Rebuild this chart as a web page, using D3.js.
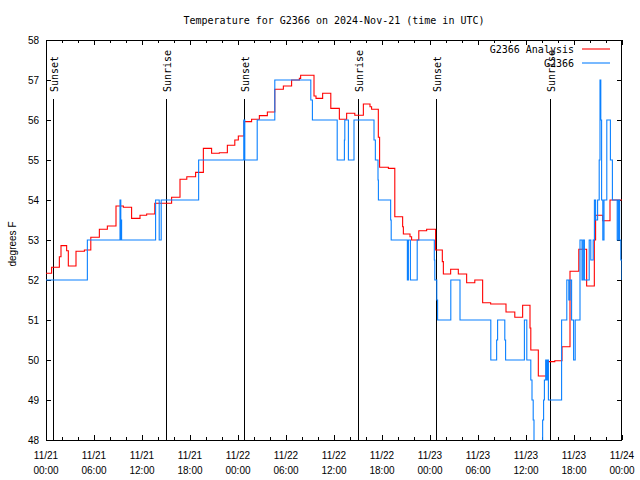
<!DOCTYPE html>
<html><head><meta charset="utf-8">
<script src="https://cdn.jsdelivr.net/npm/d3@7"></script>
<style>
html,body{margin:0;padding:0;background:#fff;}
svg{display:block;}
</style></head>
<body>
<svg id="chart" width="640" height="480"></svg>
<script>
// ---- data (hours since 2024-11-21 00:00 UTC) ----
const analysisHours = [0,0.7,1.67,1.875,2.58,2.79,3.75,4.8,5.6,6.67,7.67,8.75,9.67,10.7,11.75,12.58,13.6,15.7,16.75,17.6,18.7,19.67,20.7,21.67,22.67,23.6,24.04,24.75,25.7,26.67,27.67,28.6,29.67,30.7,31.67,31.83,33.5,33.75,34.58,35.6,36.67,37.58,38.6,39.67,40.5,40.7,41.54,41.7,42.8,43.6,44.58,44.67,45.5,45.7,46.6,47.58,48.7,49.54,49.67,50.58,51.54,52.58,53.6,54.58,55.58,57.5,58.6,59.58,60.5,60.6,61.54,62.55,63.6,64.5,65.5,66.6,67.58,68.54,68.7,69.58,70.5,72];
const analysisTemps = [52.17,52.32,52.58,52.86,52.73,52.35,52.72,52.75,53.07,53.27,53.35,53.85,53.82,53.54,53.62,53.65,53.92,54.07,54.52,54.58,54.69,55.29,55.17,55.18,55.37,55.5,55.6,55.96,56.02,56.11,56.2,56.77,56.85,57.0,57.04,57.12,56.6,56.54,56.67,56.29,56.02,56.17,56.12,56.4,56.33,56.27,55.57,54.82,54.79,53.58,53.33,53.15,53.08,53.0,53.23,53.27,52.75,52.46,52.15,52.27,52.15,51.93,52.0,51.43,51.4,51.2,51.07,51.37,50.8,50.25,49.6,49.96,49.98,50.33,52.22,52.77,51.85,53.0,53.62,53.48,54.0,54.0];

const obsHours = [0,5.17,9.25,9.35,9.4,9.45,13.7,14.15,14.4,19.08,24.72,24.85,26.4,28.6,33.1,33.3,36.4,37.3,37.35,37.8,38.5,41.0,41.17,41.5,41.55,43.08,43.15,45.17,45.3,45.55,46.4,48.54,48.6,48.85,48.95,50.6,51.75,55.6,56.33,56.45,57.35,57.45,59.8,60.1,60.6,60.75,60.9,61.0,62.08,62.2,62.3,62.46,62.6,62.7,62.8,64.45,65.1,65.35,65.5,65.7,65.95,66.15,66.75,67.0,67.15,67.3,67.9,68.1,68.4,68.55,68.7,68.95,69.15,69.25,69.35,69.45,69.6,69.75,70.1,70.55,70.8,71.1,71.4,71.55,71.7,71.85,72];
const obsTemps = [52,53,54,53,53.5,53,54,53,54,55,56,55,56,57,56.5,56,55,55.5,56,55,56,55.5,55,54.5,54,53.5,53,52,53,52,53,52.5,52,51.5,51,52,51,50,50.5,51,50.5,50,51,50,49.5,49,48.5,47.5,48.5,49,49.5,50,49.5,50,49,51,52,51.5,52,51,50,51,53,52,53,52,53,52.5,53,54,53.5,54,55,57,56,54,53,54,56,55,54,54,53,54,53,52.5,52];

const sunHours = [0.92,15.04,24.79,39.04,48.79,63.04];
const sunLabels = ["Sunset","Sunrise","Sunset","Sunrise","Sunset","Sunrise"];

const yTickValues = [48,49,50,51,52,53,54,55,56,57,58];
const seriesNames = ["G2366 Analysis","G2366"];
const seriesColors = ["#ff0000","#0a80ff"];
const titleText = "Temperature for G2366 on 2024-Nov-21 (time in UTC)";
const yLabel = "degrees F";

// ---- chart ----
const svg = d3.select("#chart");
const L = 46, R = 622, T = 40, B = 440;
const t0 = Date.UTC(2024,10,21,0,0,0);
const toDate = h => new Date(t0 + h*3600000);
const x = d3.scaleUtc().domain([toDate(0), toDate(72)]).range([L, R]);
const y = d3.scaleLinear().domain([48,58]).range([B, T]);

const mono = "'DejaVu Sans Mono', monospace";
const sans = "'Liberation Sans', Arial, sans-serif";

svg.append("rect").attr("width",640).attr("height",480).attr("fill","#fff");

svg.append("defs").append("clipPath").attr("id","clip")
  .append("rect").attr("x",L).attr("y",T).attr("width",R-L).attr("height",B-T);

// title
svg.append("text").attr("x",(L+R)/2).attr("y",24).attr("text-anchor","middle")
  .attr("font-family",mono).attr("font-size",10).attr("fill","#000").text(titleText);

// axes: minor (2h) and major (6h) ticks, inward
function styleAxis(g){ g.select(".domain").remove(); g.selectAll("line").attr("stroke","#000").attr("shape-rendering","crispEdges"); }
const minorTicks = d3.utcHour.every(2).range(toDate(0), toDate(72.01));
const majorTicks = d3.utcHour.every(6).range(toDate(0), toDate(72.01));

svg.append("g").attr("transform",`translate(0,${B})`)
  .call(d3.axisBottom(x).tickValues(minorTicks).tickSize(-3).tickFormat(""))
  .call(styleAxis);
svg.append("g").attr("transform",`translate(0,${T})`)
  .call(d3.axisTop(x).tickValues(minorTicks).tickSize(-3).tickFormat(""))
  .call(styleAxis);
svg.append("g").attr("transform",`translate(0,${B})`)
  .call(d3.axisBottom(x).tickValues(majorTicks).tickSize(-5).tickFormat(""))
  .call(styleAxis);
svg.append("g").attr("transform",`translate(0,${T})`)
  .call(d3.axisTop(x).tickValues(majorTicks).tickSize(-5).tickFormat(""))
  .call(styleAxis);

// x tick labels (two lines)
const fmtDay = d3.utcFormat("%m/%d"), fmtHour = d3.utcFormat("%H:%M");
const xl = svg.append("g").attr("font-family",sans).attr("font-size",10).attr("fill","#000").attr("text-anchor","middle");
majorTicks.forEach(d => {
  const t = xl.append("text").attr("x",x(d));
  t.append("tspan").attr("x",x(d)).attr("y",459).text(fmtDay(d));
  t.append("tspan").attr("x",x(d)).attr("y",474).text(fmtHour(d));
});

// y axes
svg.append("g").attr("transform",`translate(${L},0)`)
  .call(d3.axisLeft(y).tickValues(yTickValues).tickSize(-5).tickPadding(7).tickFormat(d3.format("d")))
  .call(styleAxis)
  .call(g => g.selectAll("text").attr("font-family",sans).attr("font-size",10).attr("fill","#000"));
svg.append("g").attr("transform",`translate(${R},0)`)
  .call(d3.axisRight(y).tickValues(yTickValues).tickSize(-5).tickFormat(""))
  .call(styleAxis);

// y label
svg.append("text").attr("transform",`translate(12,${(T+B)/2+4}) rotate(-90)`)
  .attr("text-anchor","middle").attr("dominant-baseline","central")
  .attr("font-family",sans).attr("font-size",10).attr("fill","#000").text(yLabel);

// frame
svg.append("rect").attr("x",L+0.5).attr("y",T+0.5).attr("width",R-L-1).attr("height",B-T)
  .attr("fill","none").attr("stroke","#000").attr("stroke-width",1).attr("shape-rendering","crispEdges");

// sunrise / sunset
const sun = svg.append("g");
sunHours.forEach((h,i) => {
  const xx = Math.round(x(toDate(h))) + 0.5;
  sun.append("line").attr("x1",xx).attr("x2",xx).attr("y1",99).attr("y2",B)
    .attr("stroke","#000").attr("stroke-width",1);
  sun.append("text").attr("transform",`translate(${xx+1},92) rotate(-90)`)
    .attr("dominant-baseline","central").attr("font-family",mono).attr("font-size",10)
    .attr("fill","#000").text(sunLabels[i]);
});

// series
const line = d3.line().x(d => x(toDate(d[0]))).y(d => y(d[1])).curve(d3.curveStepAfter);
const plot = svg.append("g").attr("clip-path","url(#clip)");
const analysis = analysisHours.map((h,i) => [h, analysisTemps[i]]);
const obs = obsHours.map((h,i) => [h, obsTemps[i]]);
plot.append("path").datum(analysis).attr("d",line).attr("fill","none")
  .attr("stroke",seriesColors[0]).attr("stroke-width",1.1);
plot.append("path").datum(obs).attr("d",line).attr("fill","none")
  .attr("stroke",seriesColors[1]).attr("stroke-width",1.1);

// legend
const lg = svg.append("g").attr("font-family",mono).attr("font-size",10).attr("fill","#000");
seriesNames.forEach((n,i) => {
  const yy = 49 + i*14;
  lg.append("text").attr("x",574).attr("y",yy).attr("text-anchor","end")
    .attr("dominant-baseline","central").text(n);
  lg.append("line").attr("x1",582).attr("x2",610).attr("y1",yy).attr("y2",yy)
    .attr("stroke",seriesColors[i]).attr("stroke-width",1.1);
});
</script>
</body></html>
